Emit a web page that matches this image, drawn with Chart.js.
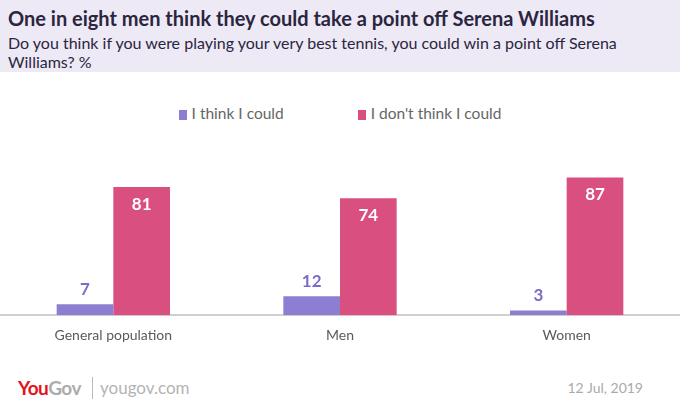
<!DOCTYPE html>
<html>
<head>
<meta charset="utf-8">
<script src="https://cdn.jsdelivr.net/npm/chart.js@4"></script>
<style>
    body { margin: 0; width: 680px; height: 412px; background: #fff; font-family: Lato, sans-serif; position: relative; overflow: hidden; }
    #header { position: absolute; left: 0; top: 0; width: 680px; height: 72px; background: #edeaf6; }
    #title { position: absolute; left: 8px; top: 6px; font-size: 20px; font-weight: bold; color: #2b2540; white-space: nowrap; }
    #subtitle { position: absolute; left: 8px; top: 33px; font-size: 16px; line-height: 19px; color: #2b2540; }
    #legend { position: absolute; left: 0; top: 104px; width: 680px; text-align: center; font-size: 15.5px; color: #666; }
    #legend span.item { display: inline-block; margin: 0 37px; }
    #legend span.box { display: inline-block; width: 8px; height: 10px; margin-right: 5px; vertical-align: -1px; }
    #chartWrap { position: absolute; left: 0; top: 72px; width: 680px; height: 276px; }
    #logo { position: absolute; left: 18px; top: 376px; font-size: 19px; font-weight: bold; letter-spacing: -0.5px; }
    #sep { position: absolute; left: 92px; top: 377px; width: 1px; height: 22px; background: #bbb; }
    #site { position: absolute; left: 100px; top: 377px; font-size: 17px; color: #b3b3b3; }
    #date { position: absolute; right: 37px; top: 379px; font-size: 14px; color: #aaa; }
</style>
</head>
<body>
<div id="header">
    <div id="title">One in eight men think they could take a point off Serena Williams</div>
    <div id="subtitle">Do you think if you were playing your very best tennis, you could win a point off Serena<br>Williams? %</div>
</div>
<div id="legend"></div>
<div id="chartWrap"><canvas id="chart"></canvas></div>
<div id="logo"><span style="color:#e2131b">You</span><span style="color:#acacac">Gov</span></div>
<div id="sep"></div>
<div id="site">yougov.com</div>
<div id="date">12 Jul, 2019</div>

<script>
// Dữ liệu biểu đồ
const categories = ['General population', 'Men', 'Women'];
const seriesNames = ['I think I could', "I don't think I could"];
const thinkCould = [7, 12, 3];
const dontThinkCould = [81, 74, 87];

const colors = ['#8e7ed1', '#d94f80'];
const labelColors = ['#7d6bc9', '#ffffff'];

// Chú thích dạng HTML
const legendEl = document.getElementById('legend');
seriesNames.forEach((name, i) => {
    const item = document.createElement('span');
    item.className = 'item';
    item.innerHTML = `<span class="box" style="background:${colors[i]}"></span>${name}`;
    legendEl.appendChild(item);
});

// Plugin vẽ nhãn giá trị
const valueLabels = {
    id: 'valueLabels',
    afterDatasetsDraw(chart) {
        const ctx = chart.ctx;
        ctx.save();
        ctx.font = 'bold 17px Lato';
        ctx.textAlign = 'center';
        ctx.textBaseline = 'middle';
        chart.data.datasets.forEach((ds, di) => {
            const meta = chart.getDatasetMeta(di);
            meta.data.forEach((bar, i) => {
                ctx.fillStyle = labelColors[di];
                const y = di === 0 ? bar.y - 15 : bar.y + 17;
                ctx.fillText(ds.data[i], bar.x, y);
            });
        });
        ctx.restore();
    }
};

const ctx = document.getElementById('chart').getContext('2d');
new Chart(ctx, {
    type: 'bar',
    data: {
        labels: categories,
        datasets: [{
            label: seriesNames[0],
            data: thinkCould,
            backgroundColor: colors[0]
        }, {
            label: seriesNames[1],
            data: dontThinkCould,
            backgroundColor: colors[1]
        }]
    },
    options: {
        responsive: true,
        maintainAspectRatio: false,
        animation: false,
        layout: { padding: { top: 85, left: 0, right: 0, bottom: 0 } },
        datasets: {
            bar: { categoryPercentage: 0.5, barPercentage: 1.0 }
        },
        plugins: {
            legend: { display: false },
            tooltip: { enabled: false }
        },
        scales: {
            x: {
                grid: { display: false },
                border: { color: '#d0d0d0', width: 2 },
                ticks: { color: '#5a5a5a', font: { family: 'Lato', size: 14 }, padding: 4 }
            },
            y: {
                display: false,
                min: 0,
                max: 100
            }
        }
    },
    plugins: [valueLabels]
});
</script>
</body>
</html>
